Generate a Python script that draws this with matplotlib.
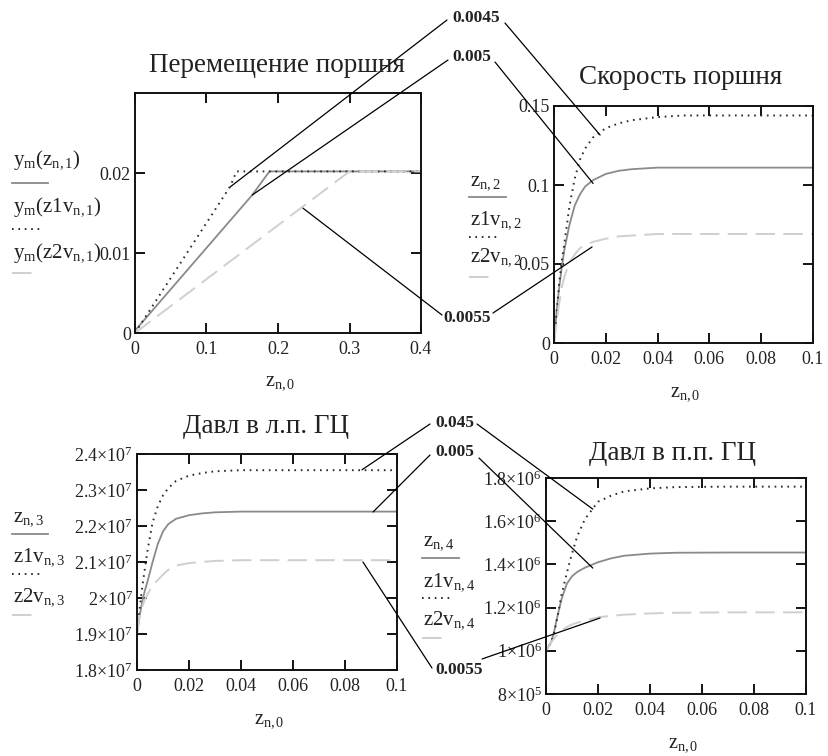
import matplotlib
matplotlib.use("Agg")
import matplotlib.pyplot as plt
from matplotlib.lines import Line2D
from matplotlib.patches import ConnectionPatch

plt.rcParams['font.family'] = ['Liberation Serif', 'DejaVu Serif']
plt.rcParams['mathtext.fontset'] = 'custom'
plt.rcParams['mathtext.rm'] = 'Liberation Serif'
plt.rcParams['mathtext.it'] = 'Liberation Serif:italic'
plt.rcParams['mathtext.bf'] = 'Liberation Serif:bold'
plt.rcParams['lines.scale_dashes'] = False

# --- data -------------------------------------------------------------
# Перемещение поршня (piecewise)
disp_x0 = [0, 0.164, 0.188, 0.4]
disp_y0 = [0.0003, 0.01725, 0.0202, 0.0202]
disp_x1 = [0, 0.133, 0.142, 0.4]
disp_y1 = [0, 0.0183, 0.0202, 0.0202]
disp_x2 = [0, 0.3, 0.4]
disp_y2 = [0, 0.0202, 0.0202]

# common time grid for the other three plots
t = [0, 0.001, 0.002, 0.003, 0.004, 0.006, 0.008, 0.01, 0.012, 0.015,
     0.02, 0.025, 0.03, 0.04, 0.05, 0.07, 0.1]

# Скорость поршня
vel0 = [0, 0.02, 0.035, 0.048, 0.059, 0.075, 0.087, 0.094, 0.099, 0.103,
        0.107, 0.109, 0.110, 0.111, 0.111, 0.111, 0.111]
vel1 = [0, 0.019, 0.038, 0.052, 0.063, 0.087, 0.104, 0.116, 0.123, 0.130,
        0.136, 0.139, 0.141, 0.143, 0.144, 0.144, 0.144]
vel2 = [0, 0.013, 0.025, 0.035, 0.042, 0.051, 0.056, 0.060, 0.062, 0.064,
        0.066, 0.0675, 0.068, 0.069, 0.069, 0.069, 0.069]

# Давл в л.п. ГЦ
plp0 = [1.9e7, 1.95e7, 1.99e7, 2.02e7, 2.045e7, 2.1e7, 2.15e7, 2.185e7, 2.205e7,
        2.22e7, 2.23e7, 2.235e7, 2.238e7, 2.24e7, 2.24e7, 2.24e7, 2.24e7]
plp1 = [1.9e7, 1.97e7, 2.03e7, 2.08e7, 2.13e7, 2.21e7, 2.255e7, 2.285e7, 2.305e7,
        2.325e7, 2.34e7, 2.347e7, 2.352e7, 2.355e7, 2.355e7, 2.355e7, 2.355e7]
plp2 = [1.9e7, 1.95e7, 1.975e7, 1.995e7, 2.01e7, 2.035e7, 2.05e7, 2.065e7, 2.078e7,
        2.09e7, 2.097e7, 2.1e7, 2.103e7, 2.105e7, 2.105e7, 2.105e7, 2.105e7]

# Давл в п.п. ГЦ
ppp0 = [1.0e6, 1.02e6, 1.04e6, 1.08e6, 1.14e6, 1.24e6, 1.31e6, 1.345e6, 1.365e6,
        1.385e6, 1.41e6, 1.428e6, 1.44e6, 1.45e6, 1.454e6, 1.455e6, 1.455e6]
ppp1 = [1.0e6, 1.02e6, 1.04e6, 1.08e6, 1.13e6, 1.26e6, 1.36e6, 1.45e6, 1.53e6,
        1.61e6, 1.69e6, 1.718e6, 1.738e6, 1.752e6, 1.758e6, 1.76e6, 1.76e6]
ppp2 = [1.0e6, 1.02e6, 1.04e6, 1.055e6, 1.07e6, 1.095e6, 1.11e6, 1.122e6, 1.13e6,
        1.14e6, 1.155e6, 1.162e6, 1.167e6, 1.173e6, 1.176e6, 1.178e6, 1.178e6]

# tick values / labels
disp_xticks = [0, 0.1, 0.2, 0.3, 0.4]
disp_xlabels = ['0', '0.1', '0.2', '0.3', '0.4']
disp_yticks = [0, 0.01, 0.02]
disp_ylabels = ['0', '0.01', '0.02']
t_ticks = [0, 0.02, 0.04, 0.06, 0.08, 0.1]
t_labels = ['0', '0.02', '0.04', '0.06', '0.08', '0.1']
vel_yticks = [0, 0.05, 0.1, 0.15]
vel_ylabels = ['0', '0.05', '0.1', '0.15']
plp_yticks = [1.8e7, 1.9e7, 2.0e7, 2.1e7, 2.2e7, 2.3e7, 2.4e7]
plp_ylabels = [r'$\mathrm{1.8{\times}10^{7}}$', r'$\mathrm{1.9{\times}10^{7}}$',
               r'$\mathrm{2{\times}10^{7}}$', r'$\mathrm{2.1{\times}10^{7}}$',
               r'$\mathrm{2.2{\times}10^{7}}$', r'$\mathrm{2.3{\times}10^{7}}$',
               r'$\mathrm{2.4{\times}10^{7}}$']
ppp_yticks = [8e5, 1.0e6, 1.2e6, 1.4e6, 1.6e6, 1.8e6]
ppp_ylabels = [r'$\mathrm{8{\times}10^{5}}$', r'$\mathrm{1{\times}10^{6}}$',
               r'$\mathrm{1.2{\times}10^{6}}$', r'$\mathrm{1.4{\times}10^{6}}$',
               r'$\mathrm{1.6{\times}10^{6}}$', r'$\mathrm{1.8{\times}10^{6}}$']

# callout labels and the curve points they point at
top_callouts = ['0.0045', '0.005', '0.0055']
bottom_callouts = ['0.045', '0.005', '0.0055']
disp_cx = [0.133, 0.164, 0.235]
disp_cy = [0.01825, 0.01725, 0.0156]
vel_cx = [0.0178, 0.0151, 0.0147]
vel_cy = [0.1316, 0.101, 0.0608]
plp_cx = [0.0865, 0.0908, 0.0869]
plp_cy = [2.356e7, 2.239e7, 2.1e7]
ppp_cx = [0.018, 0.018, 0.0208]
ppp_cy = [1.656e6, 1.383e6, 1.152e6]

# --- styles -----------------------------------------------------------
W, H = 829, 756
STY = [dict(color='#8a8a8a', lw=1.3, linestyle='-'),
       dict(color='#2b2b2b', lw=1.4, linestyle=(0, (1.2, 3.4))),
       dict(color='#cfcfcf', lw=1.4, linestyle=(0, (14, 6)))]
TXT = '#222222'

fig = plt.figure(figsize=(W / 100, H / 100), dpi=100)


def add_ax(x0, y0, x1, y1):
    ax = fig.add_axes([x0 / W, 1 - y1 / H, (x1 - x0) / W, (y1 - y0) / H])
    for s in ax.spines.values():
        s.set_linewidth(1.4)
        s.set_color('#111111')
    ax.tick_params(direction='in', length=7, width=1.3, top=True, right=True,
                   labelsize=13, labelcolor=TXT, pad=3)
    ax.tick_params(axis='x', pad=6)
    return ax


def fig_text(x, y, s, **kw):
    fig.text(x / W, 1 - y / H, s, color=TXT, **kw)


def legend_at(x, ys, labels, line_ys, line_lens):
    for yt, lab, yl, ln, st in zip(ys, labels, line_ys, line_lens, STY):
        fig_text(x, yt, lab, fontsize=15, ha='left', va='center')
        fig.add_artist(Line2D([(x - 1) / W, (x - 1 + ln) / W], [1 - yl / H] * 2,
                              transform=fig.transFigure, **st))


def connect(px, py, ax, x, y):
    con = ConnectionPatch(xyA=(px, H - py), coordsA='figure pixels',
                          xyB=(x, y), coordsB='data', axesB=ax,
                          color='black', lw=0.9)
    fig.add_artist(con)


# --- Перемещение поршня ---
ax1 = add_ax(135, 93, 421, 333)
for xs, ys, st in zip([disp_x0, disp_x1, disp_x2], [disp_y0, disp_y1, disp_y2], STY):
    ax1.plot(xs, ys, **st)
ax1.set_xlim(0, 0.4)
ax1.set_ylim(0, 0.03)
ax1.set_xticks(disp_xticks, disp_xlabels)
ax1.set_yticks(disp_yticks, disp_ylabels)
fig_text(277, 65, 'Перемещение поршня', fontsize=19.5, ha='center', va='center')
fig_text(280, 383, r'$\mathrm{z_{n,0}}$', fontsize=14.5, ha='center', va='center')
legend_at(13, [160, 207, 253],
          [r'$\mathrm{y_m(z_{n,1})}$', r'$\mathrm{y_m(z1v_{n,1})}$',
           r'$\mathrm{y_m(z2v_{n,1})}$'],
          [183, 229, 273], [36, 30, 25])

# --- Скорость поршня ---
ax2 = add_ax(554, 106, 813, 343)
for ys, st in zip([vel0, vel1, vel2], STY):
    ax2.plot(t, ys, **st)
ax2.set_xlim(0, 0.1)
ax2.set_ylim(0, 0.15)
ax2.set_xticks(t_ticks, t_labels)
ax2.set_yticks(vel_yticks, vel_ylabels)
fig_text(681, 78, 'Скорость поршня', fontsize=19.5, ha='center', va='center')
fig_text(685, 393, r'$\mathrm{z_{n,0}}$', fontsize=14.5, ha='center', va='center')
legend_at(470, [182, 220, 257],
          [r'$\mathrm{z_{n,2}}$', r'$\mathrm{z1v_{n,2}}$', r'$\mathrm{z2v_{n,2}}$'],
          [197, 237, 277], [37, 30, 25])

# --- Давл в л.п. ГЦ ---
ax3 = add_ax(137, 454, 397, 670)
for ys, st in zip([plp0, plp1, plp2], STY):
    ax3.plot(t, ys, **st)
ax3.set_xlim(0, 0.1)
ax3.set_ylim(1.8e7, 2.4e7)
ax3.set_xticks(t_ticks, t_labels)
ax3.set_yticks(plp_yticks, plp_ylabels)
fig_text(266, 427, 'Давл в л.п. ГЦ', fontsize=19.5, ha='center', va='center')
fig_text(269, 720, r'$\mathrm{z_{n,0}}$', fontsize=14.5, ha='center', va='center')
legend_at(13, [518, 557, 597],
          [r'$\mathrm{z_{n,3}}$', r'$\mathrm{z1v_{n,3}}$', r'$\mathrm{z2v_{n,3}}$'],
          [534, 574, 615], [36, 30, 25])

# --- Давл в п.п. ГЦ ---
ax4 = add_ax(546, 478, 806, 694)
for ys, st in zip([ppp0, ppp1, ppp2], STY):
    ax4.plot(t, ys, **st)
ax4.set_xlim(0, 0.1)
ax4.set_ylim(8e5, 1.8e6)
ax4.set_xticks(t_ticks, t_labels)
ax4.set_yticks(ppp_yticks, ppp_ylabels)
fig_text(673, 453, 'Давл в п.п. ГЦ', fontsize=19.5, ha='center', va='center')
fig_text(683, 745, r'$\mathrm{z_{n,0}}$', fontsize=14.5, ha='center', va='center')
legend_at(423, [543, 582, 620],
          [r'$\mathrm{z_{n,4}}$', r'$\mathrm{z1v_{n,4}}$', r'$\mathrm{z2v_{n,4}}$'],
          [558, 598, 638], [37, 30, 25])

# --- callouts ---
top_pos = [(476, 18), (472, 57), (467, 318)]
top_left = [(447, 20), (448, 60), (442, 315)]
top_right = [(505, 23), (495, 62), (493, 313)]
for i, lab in enumerate(top_callouts):
    fig_text(*top_pos[i], lab, fontsize=12.5, fontweight='bold',
             ha='center', va='center')
    connect(*top_left[i], ax1, disp_cx[i], disp_cy[i])
    connect(*top_right[i], ax2, vel_cx[i], vel_cy[i])

bot_pos = [(455, 423), (455, 452), (459, 670)]
bot_left = [(430, 424), (430, 455), (432, 668)]
bot_right = [(477, 424), (479, 458), (482, 659)]
for i, lab in enumerate(bottom_callouts):
    fig_text(*bot_pos[i], lab, fontsize=12.5, fontweight='bold',
             ha='center', va='center')
    connect(*bot_left[i], ax3, plp_cx[i], plp_cy[i])
    connect(*bot_right[i], ax4, ppp_cx[i], ppp_cy[i])

fig.savefig('out.png', dpi=100, facecolor='white')
